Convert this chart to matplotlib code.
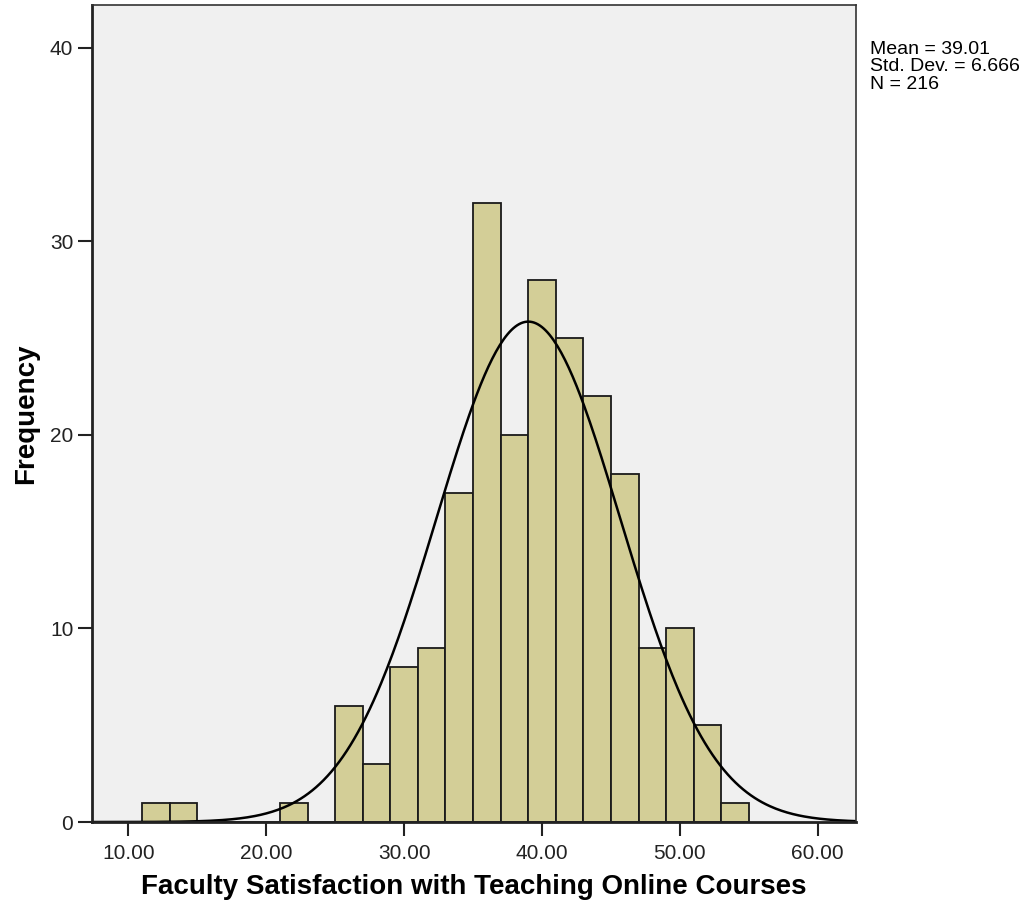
import numpy as np
import matplotlib
matplotlib.use("Agg")
import matplotlib.pyplot as plt

# histogram bins (width 2) and counts
bin_edges = [11, 13, 15, 17, 19, 21, 23, 25, 27, 29, 31, 33, 35, 37, 39, 41,
             43, 45, 47, 49, 51, 53, 55]
counts = [1, 1, 0, 0, 0, 1, 0, 6, 3, 8, 9, 17, 32, 20, 28, 25, 22, 18, 9, 10, 5, 1]

mean = 39.01
std_dev = 6.666
n_total = 216

x_ticks = [10, 20, 30, 40, 50, 60]
x_tick_labels = ["10.00", "20.00", "30.00", "40.00", "50.00", "60.00"]
y_ticks = [0, 10, 20, 30, 40]

plt.rcParams["font.family"] = ["Liberation Sans", "DejaVu Sans"]

fig = plt.figure(figsize=(10.27, 9.07), dpi=100)
ax = fig.add_axes([0.0896, 0.0937, 0.744, 0.9005])
ax.set_facecolor("#f0f0f0")

lefts = np.array(bin_edges[:-1])
widths = np.diff(bin_edges)
ax.bar(lefts, counts, width=widths, align="edge", color="#d3ce97",
       edgecolor="#1a1a1a", linewidth=1.3)

# normal curve scaled to counts
xs = np.linspace(7.37, 62.78, 400)
pdf = np.exp(-0.5 * ((xs - mean) / std_dev) ** 2) / (std_dev * np.sqrt(2 * np.pi))
ax.plot(xs, pdf * n_total * widths[0], color="black", linewidth=1.8)

ax.set_xlim(7.37, 62.78)
ax.set_ylim(0, 42.2)
ax.set_xticks(x_ticks)
ax.set_xticklabels(x_tick_labels)
ax.set_yticks(y_ticks)
ax.tick_params(axis="both", direction="out", length=10, width=1.5,
               labelsize=15, labelcolor="#222222", color="#222222")
ax.tick_params(axis="x", pad=6)

for side in ["left", "bottom"]:
    ax.spines[side].set_linewidth(2)
    ax.spines[side].set_color("#222222")
for side in ["top", "right"]:
    ax.spines[side].set_linewidth(1.2)
    ax.spines[side].set_color("#333333")

ax.set_xlabel("Faculty Satisfaction with Teaching Online Courses",
              fontsize=20, fontweight="bold", labelpad=8)
ax.set_ylabel("Frequency", fontsize=20, fontweight="bold", labelpad=8)

fig.text(0.847, 0.955,
         "Mean = %.2f\nStd. Dev. = %.3f\nN = %d" % (mean, std_dev, n_total),
         fontsize=14, va="top", ha="left", linespacing=1.05)

fig.savefig("out.png", dpi=100)
